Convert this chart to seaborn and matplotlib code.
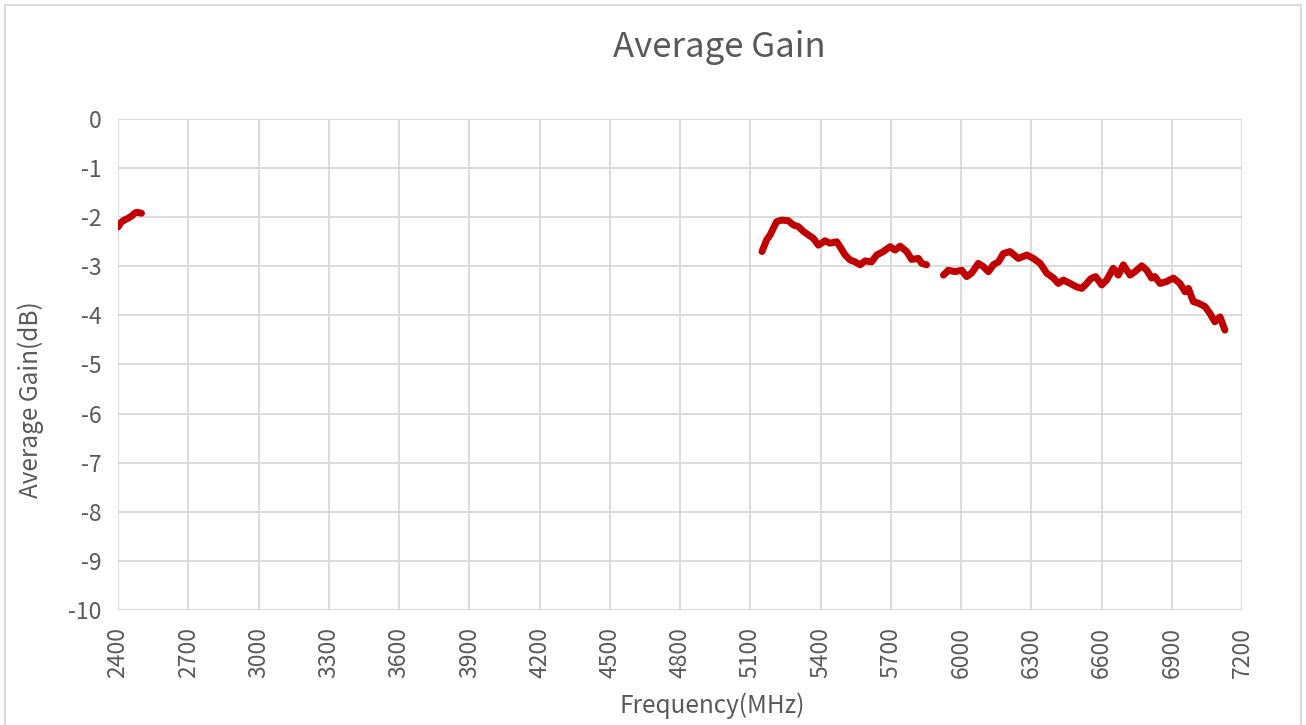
"""
Average gain vs frequency chart
"""

import matplotlib.pyplot as plt
import seaborn as sns
import pandas as pd
from matplotlib.patches import Rectangle

band1_freq = [2400, 2410, 2420, 2430, 2440, 2450, 2460, 2470, 2480, 2490, 2500]
band1_gain = [-2.2, -2.12, -2.08, -2.05, -2.03, -2.0, -1.97, -1.92, -1.9, -1.91, -1.92]

band2_freq = [5150, 5170, 5185, 5198, 5213, 5234, 5262, 5284, 5305, 5327, 5348,
              5369, 5391, 5419, 5440, 5469, 5483, 5505, 5526, 5547, 5569, 5590,
              5618, 5640, 5668, 5697, 5718, 5740, 5768, 5789, 5818, 5832, 5853]
band2_gain = [-2.70, -2.46, -2.36, -2.23, -2.09, -2.06, -2.07, -2.16, -2.19, -2.29, -2.36,
              -2.43, -2.57, -2.48, -2.53, -2.50, -2.60, -2.77, -2.87, -2.91, -2.97, -2.89,
              -2.91, -2.77, -2.70, -2.60, -2.67, -2.59, -2.70, -2.86, -2.84, -2.94, -2.97]

band3_freq = [5925, 5946, 5974, 6003, 6024, 6045, 6074, 6096, 6117, 6138, 6160,
              6181, 6209, 6245, 6281, 6309, 6338, 6366, 6395, 6416, 6437, 6466,
              6494, 6516, 6537, 6555, 6575, 6601, 6622, 6650, 6672, 6693, 6722,
              6743, 6772, 6793, 6814, 6828, 6850, 6878, 6907, 6935, 6957, 6971,
              6992, 7013, 7042, 7063, 7084, 7106, 7127]
band3_gain = [-3.18, -3.08, -3.11, -3.08, -3.21, -3.14, -2.94, -3.01, -3.11, -2.97, -2.91,
              -2.74, -2.70, -2.84, -2.77, -2.84, -2.94, -3.14, -3.24, -3.35, -3.28, -3.35,
              -3.42, -3.45, -3.35, -3.25, -3.21, -3.38, -3.28, -3.04, -3.18, -2.97, -3.18,
              -3.11, -2.99, -3.08, -3.24, -3.21, -3.35, -3.31, -3.24, -3.35, -3.52, -3.45,
              -3.72, -3.75, -3.82, -3.96, -4.13, -4.03, -4.30]

x_ticks = list(range(2400, 7201, 300))
y_ticks = list(range(-10, 1))

df = pd.concat([
    pd.DataFrame({'freq': band1_freq, 'gain': band1_gain, 'band': 1}),
    pd.DataFrame({'freq': band2_freq, 'gain': band2_gain, 'band': 2}),
    pd.DataFrame({'freq': band3_freq, 'gain': band3_gain, 'band': 3}),
])

sns.set_style("white")
plt.rcParams['font.family'] = ['Noto Sans CJK SC', 'DejaVu Sans']
plt.rcParams['axes.unicode_minus'] = False

text_color = '#595959'
grid_color = '#D9D9D9'

fig = plt.figure(figsize=(13.06, 7.25), dpi=100)
ax = fig.add_axes([0.0904, 0.1586, 0.8606, 0.6773])

sns.lineplot(data=df, x='freq', y='gain', units='band', estimator=None,
             color='#C00000', linewidth=5, ax=ax, legend=False)

ax.set_xlim(2400, 7200)
ax.set_ylim(-10, 0)
ax.set_xticks(x_ticks)
ax.set_yticks(y_ticks)
ax.set_xticklabels([str(t) for t in x_ticks], rotation=90)
ax.set_yticklabels([str(t) for t in y_ticks])

ax.grid(True, color=grid_color, linewidth=1.3)
for s in ax.spines.values():
    s.set_visible(False)
ax.tick_params(axis='both', length=0, labelsize=16.5, labelcolor=text_color, pad=12)
for lbl in ax.get_xticklabels() + ax.get_yticklabels():
    lbl.set_fontweight('light')

ax.set_xlabel('Frequency(MHz)', fontsize=17.5, color=text_color, fontweight='light')
ax.set_ylabel('Average Gain(dB)', fontsize=17.5, color=text_color, fontweight='light')
ax.xaxis.set_label_coords(0.529, -0.168)
ax.yaxis.set_label_coords(-0.066, 0.428)

fig.text(0.551, 0.934, 'Average Gain', ha='center', va='center',
         fontsize=25, color=text_color, fontweight='light')

# Chart area border
fig.patches.append(Rectangle((0.004, -0.01), 0.992, 1.003, transform=fig.transFigure,
                             fill=False, edgecolor=grid_color, linewidth=1.3))

plt.savefig('out.png', dpi=100)
